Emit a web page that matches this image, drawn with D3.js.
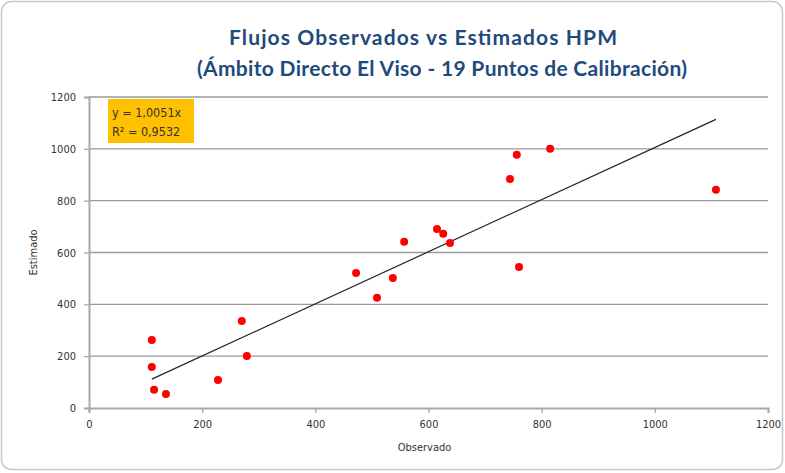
<!DOCTYPE html>
<html>
<head>
<meta charset="utf-8">
<script src="https://cdn.jsdelivr.net/npm/d3@7"></script>
<style>
  body { margin: 0; background: #fff; }
  svg { display: block; }
</style>
</head>
<body>
<svg id="svg"></svg>
<script>
const width = 785;
const height = 473;

// data
const observado = [111, 111, 115, 136, 228, 270, 279, 472, 509, 537, 557, 615, 626, 638, 744, 756, 760, 815, 1108];
const estimado = [262, 158, 70, 54, 108, 336, 201, 521, 425, 502, 641, 691, 672, 637, 884, 977, 544, 1000, 842];
const slope = 1.0051;
const xTicks = [0, 200, 400, 600, 800, 1000, 1200];
const yTicks = [0, 200, 400, 600, 800, 1000, 1200];
const titleLines = ["Flujos Observados vs Estimados HPM", "(Ámbito Directo El Viso - 19 Puntos de Calibración)"];
const equationLines = ["y = 1,0051x", "R² = 0,9532"];

let svg = d3.select("#svg").attr("width", width).attr("height", height);

// chart frame
svg.append("rect")
    .attr("x", 1.5).attr("y", 1.5)
    .attr("width", width - 4).attr("height", height - 5)
    .attr("rx", 10)
    .attr("fill", "#fff")
    .attr("stroke", "#c8c8c8")
    .attr("stroke-width", 1.5);

let xScale = d3.scaleLinear().domain([0, 1200]).range([89, 768]);
let yScale = d3.scaleLinear().domain([0, 1200]).range([408, 97]);

// title (start x and width of each line as in the picture)
const titlePos = [{x: 229, y: 45, w: 388}, {x: 197, y: 76, w: 490}];
svg.append("g").selectAll("text")
    .data(titleLines)
    .join("text")
    .attr("x", (d, i) => titlePos[i].x)
    .attr("y", (d, i) => titlePos[i].y)
    .attr("textLength", (d, i) => titlePos[i].w)
    .attr("lengthAdjust", "spacing")
    .attr("font-family", "Lato, 'Open Sans', sans-serif")
    .attr("font-weight", "bold")
    .attr("font-size", "21px")
    .attr("fill", "#1f4a7c")
    .text(d => d);

// gridlines
svg.append("g").selectAll("line")
    .data(yTicks.filter(d => d > 0))
    .join("line")
    .attr("x1", xScale(0)).attr("x2", xScale(1200))
    .attr("y1", d => yScale(d)).attr("y2", d => yScale(d))
    .attr("stroke", "#9a9a9a")
    .attr("stroke-width", 1.3);

// axes
let xAxis = svg.append("g")
    .attr("transform", `translate(0,${yScale(0)})`)
    .call(d3.axisBottom(xScale).tickValues(xTicks).tickFormat(d3.format("d")).tickSize(5).tickPadding(7));
let yAxis = svg.append("g")
    .attr("transform", `translate(${xScale(0)},0)`)
    .call(d3.axisLeft(yScale).tickValues(yTicks).tickFormat(d3.format("d")).tickSize(5).tickPadding(8));

[xAxis, yAxis].forEach(a => {
    a.select(".domain").attr("stroke", "#a8a8a8").attr("stroke-width", 2);
    a.selectAll(".tick line").attr("stroke", "#a8a8a8").attr("stroke-width", 1.3);
    a.selectAll(".tick text")
        .attr("fill", "#333")
        .attr("font-family", "'Liberation Sans Narrow', 'DejaVu Sans Condensed', sans-serif")
        .attr("font-size", "11px");
});

// axis titles
svg.append("text")
    .attr("x", xScale(600) - 4)
    .attr("y", 451)
    .attr("text-anchor", "middle")
    .attr("font-family", "'Liberation Sans Narrow', 'DejaVu Sans Condensed', sans-serif")
    .attr("font-size", "11px")
    .attr("fill", "#333")
    .text("Observado");

svg.append("text")
    .attr("transform", `translate(37,${yScale(600)}) rotate(-90)`)
    .attr("text-anchor", "middle")
    .attr("font-family", "'Liberation Sans Narrow', 'DejaVu Sans Condensed', sans-serif")
    .attr("font-size", "11px")
    .attr("fill", "#333")
    .text("Estimado");

// trend line
let xMin = d3.min(observado), xMax = d3.max(observado);
svg.append("line")
    .attr("x1", xScale(xMin)).attr("y1", yScale(xMin * slope))
    .attr("x2", xScale(xMax)).attr("y2", yScale(xMax * slope))
    .attr("stroke", "#222")
    .attr("stroke-width", 1.2);

// points
svg.append("g").selectAll("circle")
    .data(observado)
    .join("circle")
    .attr("cx", d => xScale(d))
    .attr("cy", (d, i) => yScale(estimado[i]))
    .attr("r", 4)
    .attr("fill", "#ff0000");

// equation box
let eq = svg.append("g");
eq.append("rect")
    .attr("x", 108).attr("y", 99)
    .attr("width", 86).attr("height", 44)
    .attr("fill", "#ffc000");
eq.selectAll("text")
    .data(equationLines)
    .join("text")
    .attr("x", 112)
    .attr("y", (d, i) => 117 + i * 19)
    .attr("font-family", "'Liberation Sans Narrow', 'DejaVu Sans Condensed', sans-serif")
    .attr("font-size", "12.5px")
    .attr("fill", "#333")
    .text(d => d);
</script>
</body>
</html>
